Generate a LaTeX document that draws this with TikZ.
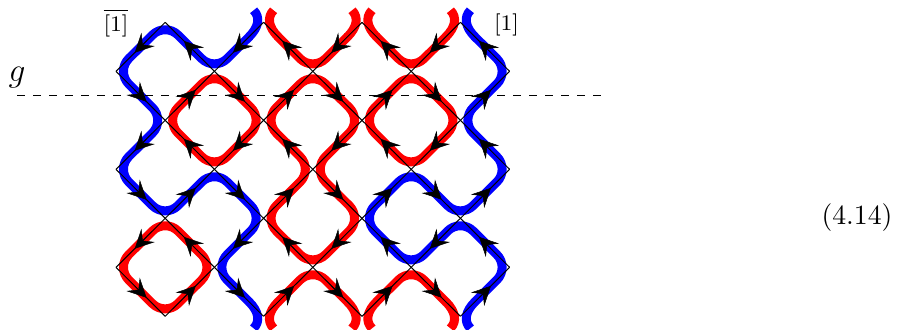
\documentclass[tikz,border=0pt]{standalone}
\usetikzlibrary{arrows.meta,calc}
\newlength{\px}
\setlength{\px}{0.36pt}
\tikzset{
  strand/.style={line width=9\px,line cap=butt,line join=round},
  round/.style={rounded corners=18\px},
  bluestrand/.style={strand,draw={rgb,255:red,0;green,0;blue,255}},
  redstrand/.style={strand,draw={rgb,255:red,255;green,0;blue,0}},
  lattice/.style={draw=black,line width=1\px},
  tipline/.style={line width=0.18pt,-{Stealth[length=6.8pt,width=6.8pt,inset=2.7pt]}},
  guide/.style={draw=black,line width=1.1\px,dash pattern=on 8\px off 8\px},
  label/.style={inner sep=0pt,outer sep=0pt}
}
% #1 style, #2 vertex, #3 side (-1 left, 1 right), #4 end (-1 top, 1 bottom)
\newcommand{\stubcurve}[4]{%
  \draw[#1] ($(#2)+(#3*10,#4*12)$) .. controls ($(#2)+(#3*3,#4*5)$) and ($(#2)+(#3*5,-#4*5)$) .. ($(#2)+(#3*14.5,-#4*14.5)$);}
\newcommand{\stubpt}[3]{($(#1)+(#2*14,-#3*14)$)}
\begin{document}
\begin{tikzpicture}[x=\px,y=-\px]
\useasboundingbox (0,0) rectangle (908,329);
\foreach \i in {0,...,8}{
  \foreach \j in {0,...,6}{
    \coordinate (v\i\j) at ({116+49.2*\i},{22.3+49*\j});
  }
}
% stubs at the open ends
\stubcurve{bluestrand}{v30}{-1}{-1}
\stubcurve{redstrand}{v30}{1}{-1}
\stubcurve{redstrand}{v50}{-1}{-1}
\stubcurve{redstrand}{v50}{1}{-1}
\stubcurve{redstrand}{v70}{-1}{-1}
\stubcurve{bluestrand}{v70}{1}{-1}
\stubcurve{bluestrand}{v36}{-1}{1}
\stubcurve{redstrand}{v36}{1}{1}
\stubcurve{redstrand}{v56}{-1}{1}
\stubcurve{redstrand}{v56}{1}{1}
\stubcurve{redstrand}{v76}{-1}{1}
\stubcurve{bluestrand}{v76}{1}{1}
% blue strands
\draw[bluestrand,round] \stubpt{v30}{-1}{-1} -- (v21) -- (v10) -- (v01) -- (v12) -- (v03) -- (v14) -- (v23) -- (v34) -- (v25) -- \stubpt{v36}{-1}{1};
\draw[bluestrand,round] \stubpt{v70}{1}{-1} -- (v81) -- (v72) -- (v83) -- (v74) -- (v63) -- (v54) -- (v65) -- (v74) -- (v85) -- \stubpt{v76}{1}{1};
% red strands
\draw[redstrand,round] \stubpt{v30}{1}{-1} -- (v41) -- \stubpt{v50}{-1}{-1};
\draw[redstrand,round] \stubpt{v50}{1}{-1} -- (v61) -- \stubpt{v70}{-1}{-1};
\draw[redstrand,round] \stubpt{v36}{1}{1} -- (v45) -- \stubpt{v56}{-1}{1};
\draw[redstrand,round] \stubpt{v56}{1}{1} -- (v65) -- \stubpt{v76}{-1}{1};
\draw[redstrand,round] (v12) -- (v21) -- (v32) -- (v23) -- cycle;
\draw[redstrand,round] (v32) -- (v41) -- (v52) -- (v43) -- (v54) -- (v45) -- (v34) -- (v43) -- cycle;
\draw[redstrand,round] (v52) -- (v61) -- (v72) -- (v63) -- cycle;
\draw[redstrand,round] (v05) -- (v14) -- (v25) -- (v16) -- cycle;
% dashed guide
\coordinate (guideL) at (17,95.5);
\coordinate (guideR) at (601,95.5);
\draw[guide] (guideL) -- (guideR);
% lattice edges with their arrowheads, each listed in its direction
\foreach \a/\b in {
  10/01,30/21,50/41,70/61, 21/10,41/30,61/50,81/70,
  01/12,21/32,41/52,61/72, 12/21,32/41,52/61,72/81,
  12/03,32/23,52/43,72/63, 23/12,43/32,63/52,83/72,
  03/14,23/34,43/54,63/74, 14/23,34/43,54/63,74/83,
  14/05,34/25,54/45,74/65, 25/14,45/34,65/54,85/74,
  05/16,25/36,45/56,65/76, 16/25,36/45,56/65,76/85}{
  \draw[lattice] (v\a) -- (v\b);
  \draw[tipline] ($(v\a)!0.38!(v\b)$) -- ($(v\a)!0.62!(v\b)$);
}
% labels
\node[label] (glabel) at (17,78) {\large$g$};
\node[label] (barone) at (116,23) {\footnotesize$\overline{[1]}$};
\node[label] (one) at (506.5,24.5) {\footnotesize$[1]$};
\node[label] (eqnum) at (857,218) {\fontsize{10.4}{12}\selectfont$(4.14)$};
\end{tikzpicture}
\end{document}
